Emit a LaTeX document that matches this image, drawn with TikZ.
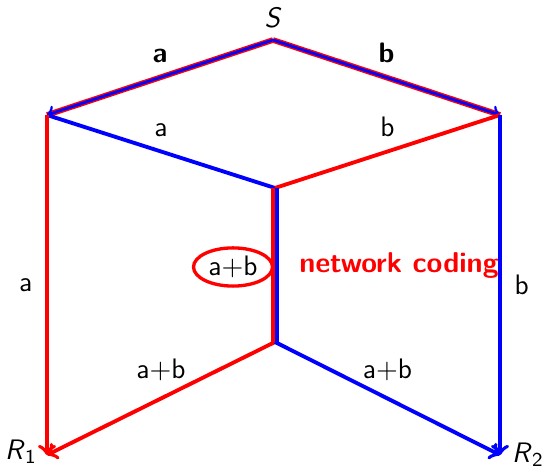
\documentclass[tikz,border=0pt]{standalone}
\usepackage{tikz}
\usetikzlibrary{shapes.geometric}
\renewcommand{\familydefault}{\sfdefault}

\begin{document}
\begin{tikzpicture}[x=0.3906pt, y=-0.3906pt,
  font=\fontsize{11}{13}\selectfont,
  redline/.style={color=red, line width=1.5pt, ->},
  blueline/.style={color=blue, line width=1.5pt, ->},
  lbl/.style={text=black, inner sep=2pt}]
\useasboundingbox (0,0) rectangle (542,469);
\coordinate (S) at (273,40);
\coordinate (L) at (47,115);
\coordinate (Rt) at (500,115);
\coordinate (M1) at (275,188);
\coordinate (M2) at (275,342);
\coordinate (R1) at (47,455);
\coordinate (R2) at (500,455);
\node (Slbl) at (273,18) {\textit{S}};
\node (R1lbl) at (21,452) {\textit{R}\textsubscript{1}};
\node (R2lbl) at (528,455) {\textit{R}\textsubscript{2}};
% source edges, both packets
\draw [color=red, line width=2.2pt] (S) -- (L);
\draw [color=blue, line width=1.1pt, ->] (S) -- (L) node[lbl, midway, above=3pt] {\textbf{a}};
\draw [color=red, line width=2.2pt] (S) -- (Rt);
\draw [color=blue, line width=1.1pt, ->] (S) -- (Rt) node[lbl, midway, above=3pt] {\textbf{b}};
% side edges
\draw [blueline, -] (L) -- (M1) node[lbl, midway, above=3pt] {a};
\draw [redline, -] (Rt) -- (M1) node[lbl, midway, above=3pt] {b};
\draw [redline] (L) -- (R1) node[lbl, midway, left=3pt] {a};
\draw [blueline] (Rt) -- (R2) node[lbl, midway, right=3pt] {b};
% coded edge
\draw [color=red, line width=1.5pt] ([xshift=-0.8pt]M1) -- ([xshift=-0.8pt]M2);
\draw [color=blue, line width=1.5pt] ([xshift=0.8pt]M1) -- ([xshift=0.8pt]M2);
\node [draw=red, line width=1.3pt, ellipse, inner sep=1pt, minimum width=79*0.3906pt, minimum height=35*0.3906pt] (coded) at (233,267) {a$+$b};
\node [text=red, font=\fontsize{11.2}{13}\bfseries] (nc) at (399,266) {network coding};
\draw [redline] (M2) -- (R1) node[lbl, midway, above=4pt] {a$+$b};
\draw [blueline] (M2) -- (R2) node[lbl, midway, above=4pt] {a$+$b};
\end{tikzpicture}
\end{document}
